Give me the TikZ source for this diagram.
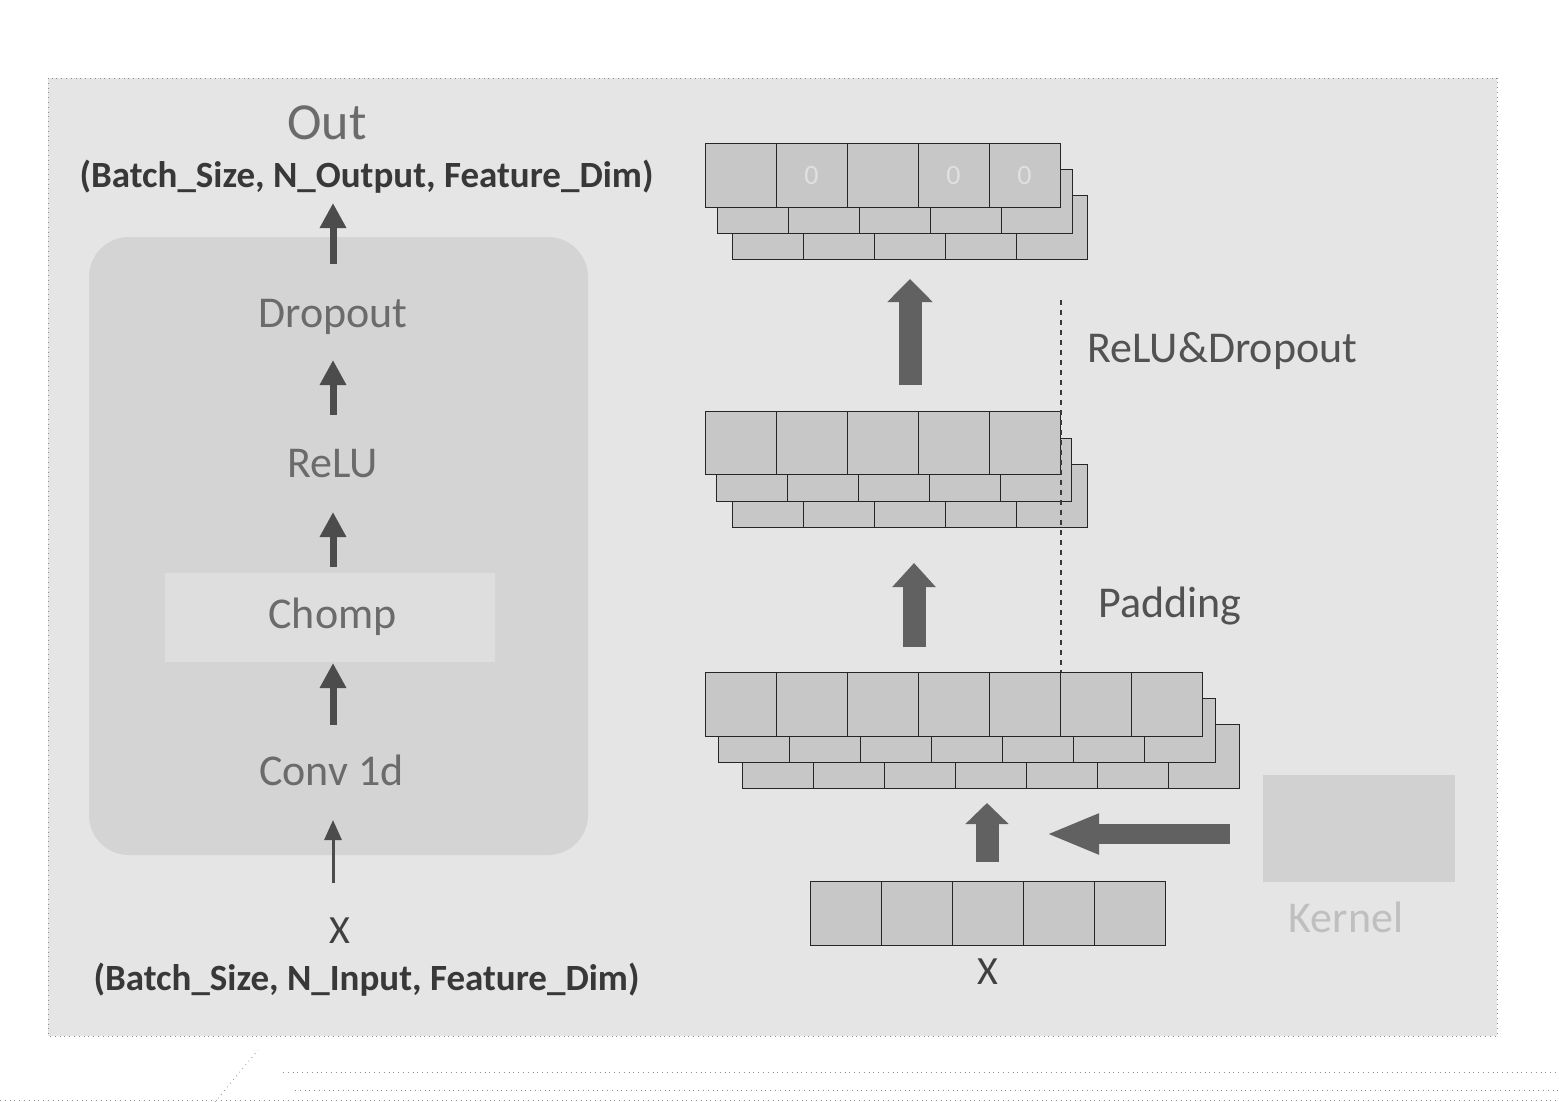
\documentclass[tikz,border=0pt]{standalone}
\usepackage{fontspec}
\setmainfont{Carlito}
\usetikzlibrary{arrows.meta}
\tikzset{
  lbl/.style={inner sep=0pt, anchor=base, text=black!58, font=\fontsize{22pt}{26pt}\selectfont},
  dimlbl/.style={inner sep=0pt, anchor=base, text=black!78, font=\fontsize{18.5pt}{22pt}\selectfont\bfseries},
  cell/.style={draw=black!85, line width=0.5pt, fill=black!22},
  narrowarrow/.style={draw=black!70, line width=3.5pt, -{Triangle[width=12.5pt,length=12.5pt]}},
  thinarrow/.style={draw=black!70, line width=1.5pt, -{Triangle[width=8.5pt,length=10pt]}},
  blockarrow/.style={draw=black!62, line width=11.5pt},
  zerolbl/.style={inner sep=0pt, text=white, text opacity=0.45, font=\fontsize{14pt}{16pt}\selectfont},
}
\begin{document}
\begin{tikzpicture}[x=0.5pt,y=-0.5pt]
\useasboundingbox (0,0) rectangle (1559,1102);
\fill[white] (0,0) rectangle (1559,1102);
% frame
\draw[dotted, black!45, fill=black!10] (48,78) rectangle (1497,1036);
% scan artifacts at the bottom
\draw[dotted, black!45] (283,1072) -- (1559,1072);
\draw[dotted, black!45] (295,1090) -- (1559,1090);
\draw[dotted, black!45] (0,1100) -- (1559,1100);
\draw[dotted, black!45] (215,1102) -- (258,1050);
% left block
\fill[black!17, rounded corners=20pt] (89,237) rectangle (588,855);
\fill[black!13] (165,573) rectangle (495,662);

\node[lbl, font=\fontsize{26pt}{30pt}\selectfont] (out) at (327,140) {Out};
\node[dimlbl] (outdim) at (366.5,187) {(Batch\_Size, N\_Output, Feature\_Dim)};
\node[lbl] (dropout) at (333,327) {Dropout};
\node[lbl] (relu) at (332.5,477) {ReLU};
\node[lbl] (chomp) at (332.5,628) {Chomp};
\node[lbl] (conv) at (331.5,785) {Conv 1d};
\node[lbl, text=black!75, font=\fontsize{20pt}{24pt}\selectfont] (xin) at (340,943) {X};
\node[dimlbl] (indim) at (366.5,990) {(Batch\_Size, N\_Input, Feature\_Dim)};

\coordinate (la1s) at (333,264); \coordinate (la1e) at (333,203);
\coordinate (la2s) at (333,415); \coordinate (la2e) at (333,360);
\coordinate (la3s) at (333,567); \coordinate (la3e) at (333,512);
\coordinate (la4s) at (333,725); \coordinate (la4e) at (333,663);
\coordinate (la5s) at (333,883); \coordinate (la5e) at (333,820);
\draw[narrowarrow] (la1s) -- (la1e);
\draw[narrowarrow] (la2s) -- (la2e);
\draw[narrowarrow] (la3s) -- (la3e);
\draw[narrowarrow] (la4s) -- (la4e);
\draw[thinarrow] (la5s) -- (la5e);

% top stack (output)
\foreach \i in {0,...,4} \draw[cell] ({732+71*\i},196) rectangle ++(71,63);
\foreach \i in {0,...,4} \draw[cell] ({717+71*\i},170) rectangle ++(71,63);
\foreach \i in {0,...,4} \draw[cell] ({705+71*\i},144) rectangle ++(71,63);
\node[zerolbl] (z1) at (811.5,176) {0};
\node[zerolbl] (z2) at (953.5,176) {0};
\node[zerolbl] (z3) at (1024.5,176) {0};

% middle stack
\foreach \i in {0,...,4} \draw[cell] ({732+71*\i},464) rectangle ++(71,63);
\foreach \i in {0,...,4} \draw[cell] ({716+71*\i},438) rectangle ++(71,63);
\foreach \i in {0,...,4} \draw[cell] ({705+71*\i},411) rectangle ++(71,63);

% bottom stack (padded)
\foreach \i in {0,...,6} \draw[cell] ({742+71*\i},724) rectangle ++(71,64);
\foreach \i in {0,...,6} \draw[cell] ({718+71*\i},698) rectangle ++(71,64);
\foreach \i in {0,...,6} \draw[cell] ({705+71*\i},672) rectangle ++(71,64);

% input X
\foreach \i in {0,...,4} \draw[cell] ({810+71*\i},881) rectangle ++(71,64);
\node[lbl, text=black!75, font=\fontsize{20pt}{24pt}\selectfont] (xr) at (987.5,984) {X};

% kernel
\fill[black!18] (1263,775) rectangle (1455,882);
\node[lbl, text=black!25] (kernel) at (1346,932) {Kernel};

% dotted separator
\coordinate (dt) at (1061,300); \coordinate (db) at (1061,672);
\draw[black!78, line width=1.4pt, dash pattern=on 2.5pt off 2.5pt] (dt) -- (db);

\node[lbl, anchor=base west, text=black!68] (rd) at (1087,362) {ReLU\&Dropout};
\node[lbl, anchor=base west, text=black!68] (pad) at (1098,617) {Padding};

% block arrows
\coordinate (ba1s) at (910,385); \coordinate (ba1e) at (910,279);
\coordinate (ba2s) at (914,647); \coordinate (ba2e) at (914,563);
\coordinate (ba3s) at (987,862); \coordinate (ba3e) at (987,803);
\coordinate (ba4s) at (1230,834); \coordinate (ba4e) at (1046,834);
\draw[blockarrow, -{Triangle[width=22pt,length=11.5pt]}] (ba1s) -- (ba1e);
\draw[blockarrow, -{Triangle[width=21pt,length=12pt]}] (ba2s) -- (ba2e);
\draw[blockarrow, -{Triangle[width=21pt,length=10.5pt]}] (ba3s) -- (ba3e);
\draw[blockarrow, line width=10pt, -{Triangle[width=18.5pt,length=26.5pt]}] (ba4s) -- (ba4e);
\end{tikzpicture}
\end{document}
